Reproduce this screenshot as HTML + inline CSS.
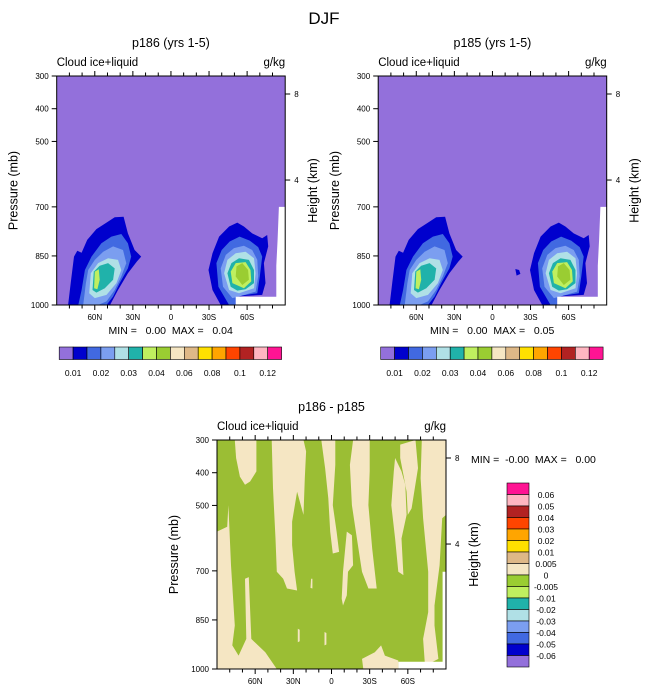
<!DOCTYPE html>
<html><head><meta charset="utf-8">
<style>
html,body{margin:0;padding:0;background:#fff;}
svg{display:block;font-family:"Liberation Sans",Arial,sans-serif;}
text{white-space:pre;}
</style></head>
<body>
<svg id="chart" width="648" height="694" viewBox="0 0 648 694" xmlns="http://www.w3.org/2000/svg">
<text x="324" y="24" font-size="17" text-anchor="middle">DJF</text>
</svg>
<script>
// ---- data ----
const pressureTicks = [300, 400, 500, 700, 850, 1000];
const latTickValues = [60, 30, 0, -30, -60];
const latTickLabels = ["60N", "30N", "0", "30S", "60S"];
const heightTickLabels = ["8", "4"];
const heightTickPressure = [355, 618];
const levelColors = ["#9370DB","#0000CD","#4169E1","#7B9EF0","#B0E0E6","#20B2AA","#BFEF5F","#9ACD32","#F5E6C3","#DEB887","#FFE000","#FFA500","#FF4500","#B22222","#FFB6C1","#FF1493"];
const topBarLabels = ["0.01","0.02","0.03","0.04","0.06","0.08","0.1","0.12"];
const diffBarLabels = ["0.06","0.05","0.04","0.03","0.02","0.01","0.005","0","-0.005","-0.01","-0.02","-0.03","-0.04","-0.05","-0.06"];
// contour bands [lat, p] for top panels, levels 1..7
const nhLevels = [
 [[81,1000],[79,933],[76.4,852],[73.8,834],[70.4,840],[66,801],[58.7,768],[50.8,748],[44.3,732],[37.3,730],[33.9,781],[28.6,832],[23.4,852],[26.8,867],[33.9,903],[41.7,954],[48,1000]],
 [[73,1000],[70.4,954],[67.8,893],[62.6,852],[54.8,811],[46.9,791],[39.1,783],[33.9,811],[31.3,852],[33.9,888],[40.4,933],[45.6,974],[50.8,1000]],
 [[69.1,1000],[67,933],[65.2,893],[60,862],[53.4,837],[45.6,821],[37.8,832],[35.2,872],[39.1,913],[44.3,954],[50.8,989],[57.4,1000]],
 [[64.4,964],[63.1,903],[57.4,872],[49.5,857],[41.7,862],[39.1,893],[43,933],[50.8,969],[60,979]],
 [[61.8,954],[60.8,898],[56.1,880],[49.5,872],[44.3,888],[45.6,923],[52.1,949],[58.7,962]],
 [[60.5,949],[60,898],[56.8,891],[56.1,923],[57.9,952]]
];
const shLevels = [
 [[-39.2,1000],[-32.7,954],[-29.6,893],[-32.7,842],[-37.9,791],[-45.8,760],[-52.3,748],[-57.5,760],[-64,781],[-71.9,796],[-75.8,786],[-76.6,821],[-73.2,872],[-74.5,933],[-71.9,969],[-51,974],[-51,1000]],
 [[-45.8,1000],[-37.4,944],[-35.8,872],[-40,832],[-46.3,806],[-54.1,791],[-62,803],[-68.7,823],[-71.9,852],[-70,913],[-68,964],[-51,974],[-51,1000]],
 [[-48.4,979],[-41,944],[-39.2,888],[-43.2,847],[-49.7,826],[-57.5,819],[-64,832],[-68,862],[-68.7,913],[-66.7,959],[-53.6,974]],
 [[-45.8,954],[-41.9,903],[-44.5,862],[-51,842],[-58.8,837],[-65.4,857],[-66.7,903],[-65.4,949],[-53.6,964]],
 [[-47.1,944],[-44.5,903],[-47.6,872],[-53.6,857],[-61.4,862],[-65.4,893],[-65.4,933],[-58.8,952],[-52.3,956]],
 [[-48.4,933],[-47.1,898],[-51,872],[-58.8,869],[-62.7,893],[-63.3,928],[-57.5,949]],
 [[-51,913],[-51.6,882],[-56.2,872],[-60.8,893],[-61.4,923],[-56.2,939]]
];
const p185Extra = [[[-18,890],[-21,893],[-22,905],[-19,910]]];
const topMask = [[-85,700],[-90,700],[-90,1000],[-51,1000],[-51,975],[-83,975],[-83,880],[-84,800]];
// difference panel: positive (beige) regions on green background
const diffPositive = [
 [[90,580],[82,565],[81,499],[79,683],[76,867],[78,928],[73,959],[67,908],[68,724],[65,719],[63,908],[52,949],[43,1000],[90,1000]],
 [[76,300],[59,300],[59,396],[64,427],[68,437],[72,412],[75,355]],
 [[47,300],[22,300],[20,335],[21,417],[22,529],[27,458],[31,550],[31,621],[29,703],[27,760],[35,754],[38,724],[43,703],[44,601],[46,447]],
 [[8,300],[-3,300],[-3,376],[-1,499],[-4,580],[-6,642],[-1,647],[1,580],[2.5,478],[5,386]],
 [[-17,300],[-30,300],[-30,396],[-29,499],[-32,632],[-35.5,754],[-29,754],[-24,703],[-20,601],[-16,499],[-14.5,376]],
 [[-54,314],[-66,300],[-68,386],[-63,509],[-60,529],[-59,458],[-56.5,406],[-54,355]],
 [[-71,300],[-90,300],[-90,529],[-87,539],[-85,683],[-81,806],[-81,867],[-84,969],[-73.5,990],[-72,908],[-76,826],[-76,703],[-72,539],[-70,417]],
 [[-50,355],[-55,396],[-58,437],[-59,529],[-55,601],[-56.5,713],[-52.5,703],[-50,601],[-47,499],[-49,396]],
 [[-12,580],[-16,591],[-17,683],[-13,703],[-12,775],[-9,806],[-8,785],[-9,703]],
 [[-24,969],[-34,949],[-39,928],[-42,959],[-52.5,974],[-52.5,1000],[-25,1000]],
 [[16,724],[15,724],[15,754],[16.5,752]],
 [[26.5,877],[25,880],[25,915],[26.5,918]],
 [[5.5,887],[4,890],[4,925],[5.5,928]]
];
const diffMask = [[-87.3,703],[-90,703],[-90,1000],[-52.5,1000],[-52.5,978],[-87.3,978]];

// ---- drawing ----
const svg = document.getElementById('chart');
const NS = 'http://www.w3.org/2000/svg';
function mk(tag, attrs, parent) {
  const e = document.createElementNS(NS, tag);
  for (const k in attrs) e.setAttribute(k, attrs[k]);
  (parent || svg).appendChild(e);
  return e;
}
function txt(x, y, s, size, anchor, parent) {
  const t = mk('text', {x: x, y: y, 'font-size': size, 'text-anchor': anchor || 'start'}, parent);
  t.textContent = s;
  return t;
}
function makeAxes(x0, y0, w, h) {
  return {
    x: lat => x0 + (90 - lat) / 180 * w,
    y: p => y0 + (p - 300) / 700 * h
  };
}
function poly(ax, pts, fill, g, name) {
  const d = pts.map(pt => ax.x(pt[0]).toFixed(1) + ',' + ax.y(pt[1]).toFixed(1)).join(' ');
  const e = mk('polygon', {points: d, fill: fill}, g);
  
  
  return e;
}
function panel(opt) {
  const g = mk('g', {});
  
  
  const {x0, y0, w, h} = opt;
  const ax = makeAxes(x0, y0, w, h);
  const t = txt(x0 + w / 2, y0 - 29, opt.title, 12.5, 'middle', g);
  
  
  const l = txt(x0, y0 - 10, 'Cloud ice+liquid', 11.5, 'start', g);
  
  
  const u = txt(x0 + w, y0 - 10, 'g/kg', 11.5, 'end', g);
  
  
  const bg = mk('rect', {x: x0, y: y0, width: w, height: h, fill: opt.bg}, g);
  
  
  opt.draw(ax, g);
  const fr = mk('rect', {x: x0, y: y0, width: w, height: h, fill: 'none', stroke: '#000', 'stroke-width': 1}, g);
  
  
  pressureTicks.forEach(p => {
    const y = ax.y(p);
    mk('line', {x1: x0 - 5, x2: x0, y1: y, y2: y, stroke: '#000'}, g);
    const tl = txt(x0 - 8, y + 3, String(p), 8, 'end', g);
    
    
  });
  for (let lat = 80; lat >= -80; lat -= 10) {
    const x = ax.x(lat);
    const len = (lat % 30 === 0) ? 5 : 3.5;
    mk('line', {x1: x, x2: x, y1: y0 + h, y2: y0 + h + len, stroke: '#000'}, g);
    mk('line', {x1: x, x2: x, y1: y0, y2: y0 - len, stroke: '#000'}, g);
  }
  latTickValues.forEach((lat, i) => {
    const tl = txt(ax.x(lat), y0 + h + 15, latTickLabels[i], 8, 'middle', g);
    
    
  });
  heightTickPressure.forEach((p, i) => {
    const y = ax.y(p);
    mk('line', {x1: x0 + w, x2: x0 + w + 5, y1: y, y2: y, stroke: '#000'}, g);
    const tl = txt(x0 + w + 9, y + 3, heightTickLabels[i], 8, 'start', g);
    
    
  });
  const py = y0 + h / 2;
  const pl = txt(0, 0, 'Pressure (mb)', 12.5, 'middle', g);
  pl.setAttribute('transform', `translate(${x0 - 39},${py}) rotate(-90)`);
  
  
  const hl = txt(0, 0, 'Height (km)', 12.5, 'middle', g);
  hl.setAttribute('transform', `translate(${x0 + w + 32},${py}) rotate(-90)`);
  
  
  return g;
}
function topPanel(x0, title, name, maxText, extra) {
  const g = panel({x0: x0, y0: 76, w: 228.5, h: 229, title: title, name: name, bg: levelColors[0],
    draw: (ax, g) => {
      [nhLevels, shLevels].forEach(set => set.forEach((pts, i) => poly(ax, pts, levelColors[i + 1], g, 'contour-band')));
      extra.forEach(pts => poly(ax, pts, levelColors[1], g, 'contour-band'));
      poly(ax, topMask, '#fff', g, 'missing-data-mask');
    }});
  const mm = txt(x0 + 114, 334, 'MIN =   0.00  MAX =   ' + maxText, 10.5, 'middle', g);
  
  
  const cb = mk('g', {}, g);
  
  
  const bw = 13.9;
  levelColors.forEach((c, i) => {
    const r = mk('rect', {x: x0 + 2.5 + i * bw, y: 347, width: bw, height: 12.5, fill: c, stroke: '#000', 'stroke-width': 0.6}, cb);
    
    
  });
  topBarLabels.forEach((s, i) => {
    const t = txt(x0 + 16.4 + i * 27.8, 376, s, 8.5, 'middle', cb);
    
    
  });
}
topPanel(56.7, 'p186 (yrs 1-5)', 'panel-p186', '0.04', []);
topPanel(378.2, 'p185 (yrs 1-5)', 'panel-p185', '0.05', p185Extra);

const dg = panel({x0: 217, y0: 440, w: 229, h: 229, title: 'p186 - p185', name: 'panel-difference', bg: '#9BBE34',
  draw: (ax, g) => {
    diffPositive.forEach(pts => poly(ax, pts, '#F5E6C3', g, 'positive-difference-region'));
    poly(ax, diffMask, '#fff', g, 'missing-data-mask');
  }});
const dmm = txt(471, 463, 'MIN =  -0.00  MAX =   0.00', 10.5, 'start', dg);


const vcb = mk('g', {}, dg);


const vbh = 11.5;
levelColors.slice().reverse().forEach((c, i) => {
  const r = mk('rect', {x: 507, y: 483 + i * vbh, width: 22, height: vbh, fill: c, stroke: '#000', 'stroke-width': 0.6}, vcb);
  
  
});
diffBarLabels.forEach((s, i) => {
  const t = txt(546, 498 + i * vbh, s, 8.5, 'middle', vcb);
  
  
});
</script>
</body></html>
